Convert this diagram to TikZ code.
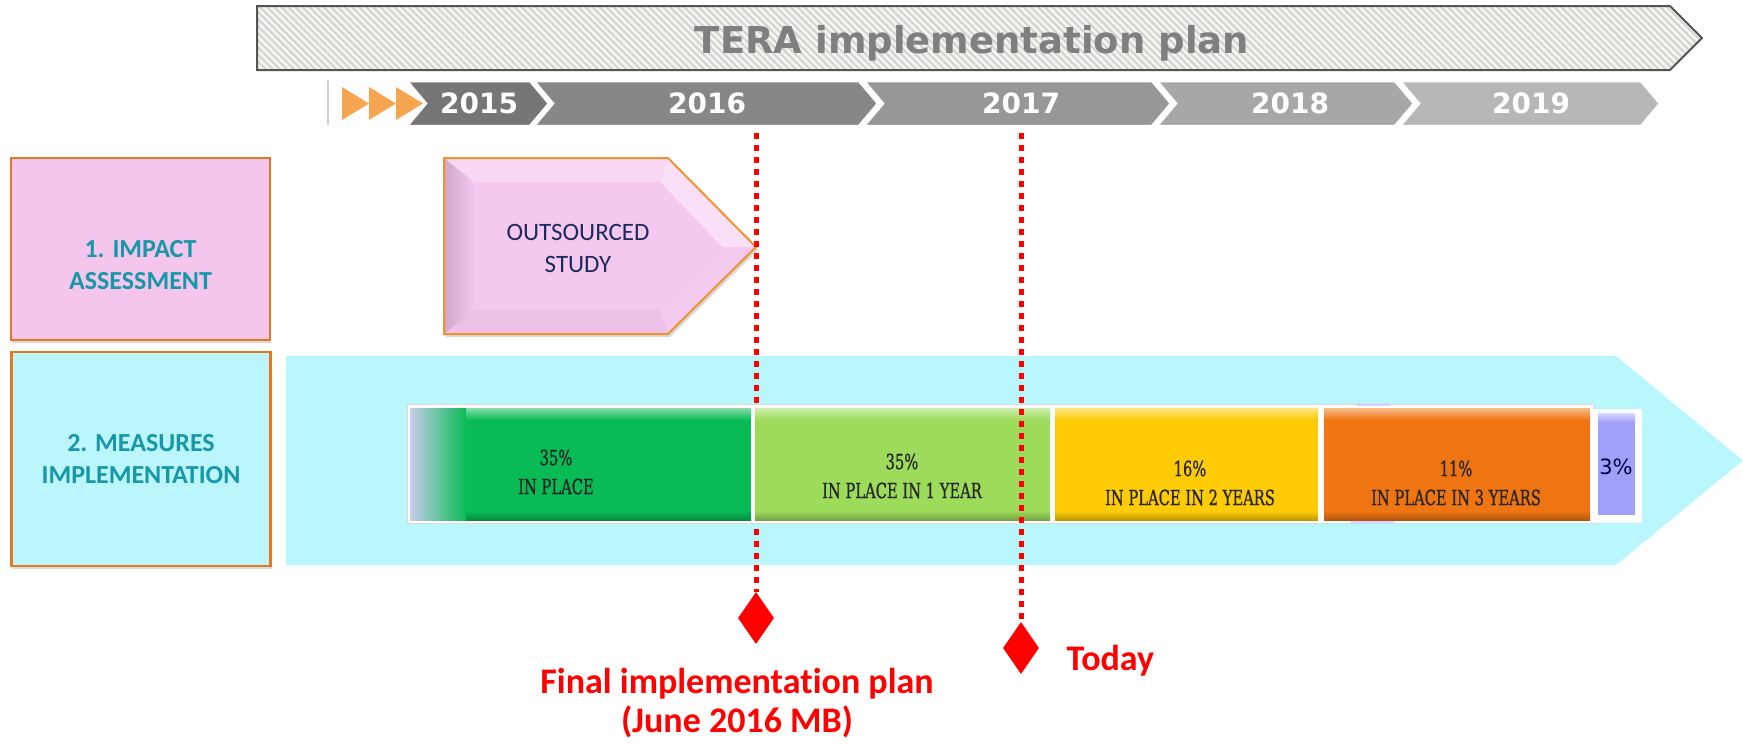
\documentclass[tikz,border=0pt]{standalone}
\usepackage{fontspec}
\setmainfont[Ligatures=CommonOff]{Carlito}
\newfontfamily\headfont{DejaVu Sans}
\newfontfamily\barfont[FakeStretch=0.7, FakeBold=0.8]{DejaVu Serif}
\usetikzlibrary{shapes.geometric,shadows,patterns.meta,positioning}

\definecolor{bannerline}{HTML}{545454}
\definecolor{bannerfill}{HTML}{F4F4F2}
\definecolor{hatchgray}{HTML}{D2D2CE}
\definecolor{titlegray}{HTML}{7F7F7F}
\definecolor{arroworange}{HTML}{F8A552}
\definecolor{yearA}{HTML}{767676}
\definecolor{yearB}{HTML}{878787}
\definecolor{yearC}{HTML}{979797}
\definecolor{yearD}{HTML}{A7A7A7}
\definecolor{yearE}{HTML}{B7B7B7}
\definecolor{boxpink}{HTML}{F4C6EE}
\definecolor{boxcyan}{HTML}{BBF6FC}
\definecolor{boxedge}{HTML}{E5781C}
\definecolor{boxteal}{HTML}{1797A7}
\definecolor{studynavy}{HTML}{1C2B5E}
\definecolor{studyedge}{HTML}{F0922E}
\definecolor{bandcyan}{HTML}{BAF7FD}
\definecolor{barGreen}{HTML}{08BB55}
\definecolor{barLime}{HTML}{9DDB5A}
\definecolor{barYellow}{HTML}{FECB04}
\definecolor{barOrange}{HTML}{EF7513}
\definecolor{barPurple}{HTML}{A09FF9}
\definecolor{barLav}{HTML}{C6CCEB}
\definecolor{markred}{HTML}{FF0000}

\tikzset{
  phasebox/.style={draw=boxedge, line width=2.5pt, minimum width=259pt, inner sep=0pt,
    drop shadow={shadow xshift=1pt, shadow yshift=-3pt, opacity=0.3}},
  phaselabel/.style={font=\bfseries\fontsize{26}{32}\selectfont, text=boxteal, align=center},
  yearlabel/.style={font=\headfont\bfseries\fontsize{28}{30}\selectfont, text=white},
  barlabel/.style={font=\barfont\fontsize{21}{29}\selectfont, text=black!85, align=center},
  redmark/.style={diamond, fill=markred, minimum width=36pt, minimum height=52pt, inner sep=0pt},
  reddots/.style={markred, line width=5pt, dash pattern=on 6pt off 6pt},
  redlabel/.style={font=\bfseries\fontsize{36}{39}\selectfont, text=markred},
}

\begin{document}
\begin{tikzpicture}[x=1pt, y=-1pt]
  \useasboundingbox (0,0) rectangle (1743,744);

  % banner
  \path[preaction={fill=bannerfill}, pattern={Lines[angle=-45,distance=5pt,line width=2pt]}, pattern color=hatchgray,
    draw=bannerline, line width=2pt]
    (257,6) -- (1670,6) -- (1702,38) -- (1670,70) -- (257,70) -- cycle;
  \node[font=\headfont\bfseries\fontsize{37}{40}\selectfont, text=titlegray, anchor=base] (title) at (972,53) {TERA implementation plan};

  % years
  \draw[line width=1.5pt, color=blue!10!gray!35] (328,80) -- (328,125);
  \foreach \x in {342,369,396}
    \fill[arroworange] (\x,87) -- ++(27,16.5) -- (\x,120) -- cycle;
  \foreach \xl/\xr/\col/\yr/\xc in {407/530/yearA/2015/479, 534/859/yearB/2016/707, 864/1152/yearC/2017/1021, 1157/1395/yearD/2018/1290, 1400/1641/yearE/2019/1531}{
    \filldraw[fill=\col, draw=white, line width=2.5pt] (\xl,81) -- (\xr,81) -- ++(19,22.5) -- (\xr,126) -- (\xl,126) -- ++(19,-22.5) -- cycle;
    \node[yearlabel, anchor=base] (y\yr) at (\xc,113) {\yr};
  }

  % phases
  \node[phasebox, fill=boxpink, minimum height=182pt] (impact) at (140.5,249) {};
  \node[phaselabel] (impacttext) at (140.5,265.5) {1. IMPACT\\ASSESSMENT};
  \node[phasebox, fill=boxcyan, minimum height=214pt] (measures) at (141,459) {};
  \node[phaselabel] (measurestext) at (141,459) {2. MEASURES\\IMPLEMENTATION};

  % outsourced study
  \fill[black, opacity=0.15] (446,161) -- (670,161) -- (758,250) -- (670,337) -- (446,337) -- cycle;
  \fill[boxpink] (444,158) -- (668,158) -- (756,247) -- (668,334) -- (444,334) -- cycle;
  \shade[left color=black!15!boxpink, right color=boxpink] (444,158) -- (474,182) -- (474,310) -- (444,334) -- cycle;
  \fill[boxpink!70!white] (444,158) -- (668,158) -- (660,182) -- (474,182) -- cycle;
  \fill[boxpink!55!white] (668,158) -- (756,247) -- (722,247) -- (660,182) -- cycle;
  \fill[boxpink!92!white] (756,247) -- (668,334) -- (660,310) -- (722,247) -- cycle;
  \fill[boxpink!97!black] (444,334) -- (474,310) -- (660,310) -- (668,334) -- cycle;
  \fill[boxpink!96!white] (474,182) -- (660,182) -- (722,247) -- (660,310) -- (474,310) -- cycle;
  \draw[studyedge, line width=2pt] (444,158) -- (668,158) -- (756,247) -- (668,334) -- (444,334) -- cycle;
  \node[font=\fontsize{25}{32}\selectfont, text=studynavy, align=center] (study) at (578,248) {OUTSOURCED\\STUDY};

  % measures band
  \fill[bandcyan] (286,356) -- (1616,356) -- (1743,460.5) -- (1616,565) -- (286,565) -- cycle;

  \coordinate (planmark) at (756,133);
  \coordinate (todaymark) at (1021,133);
  \node[redmark] (plandiamond) at (756,618) {};
  \node[redmark] (todaydiamond) at (1021,648) {};
  \draw[reddots] (planmark) -- (plandiamond.north);

  \filldraw[fill=white, draw=black!15, line width=0.8pt] (407,404) rectangle (1593,523);
  \fill[white] (1593,409) rectangle (1642,523);
  \fill[barPurple!45!white] (1357,403) rectangle (1391,406);
  \fill[barPurple!45!white] (1351,521) rectangle (1394,524);
  \foreach \xa/\xb/\col in {410/751/barGreen, 755/1050/barLime, 1055/1318/barYellow, 1324/1590/barOrange}{
    \fill[\col] (\xa,408) rectangle (\xb,520);
    \shade[top color=\col!50!white, bottom color=\col] (\xa,408) rectangle (\xb,420);
    \shade[top color=\col, bottom color=\col!75!black] (\xa,511) rectangle (\xb,520);
  }
  \shade[left color=barLav, right color=barGreen] (410,408) rectangle (466,520);
  \fill[barPurple] (1598,413) rectangle (1635,515);
  \shade[top color=barPurple!40!white, bottom color=barPurple] (1598,413) rectangle (1635,422);

  \node[barlabel] (share1) at (556,472) {35\%\\IN PLACE};
  \node[barlabel] (share2) at (902,476) {35\%\\IN PLACE IN 1 YEAR};
  \node[barlabel] (share3) at (1190,483) {16\%\\IN PLACE IN 2 YEARS};
  \node[barlabel] (share4) at (1456,483) {11\%\\IN PLACE IN 3 YEARS};
  \node[font=\headfont\fontsize{21}{24}\selectfont, text=black!60!blue!60!black, inner sep=0pt] (share5) at (1616,467) {3\%};

  \draw[reddots] (todaymark) -- (todaydiamond.north);

  % milestones
  \node[redlabel, anchor=base] (plantext) at (737,693) {Final implementation plan};
  \node[redlabel, anchor=base] (plandate) at ([yshift=-39pt]plantext.base) {(June 2016 MB)};
  \node[redlabel, anchor=base west] (todaytext) at (1063,670) {Today};
\end{tikzpicture}
\end{document}
